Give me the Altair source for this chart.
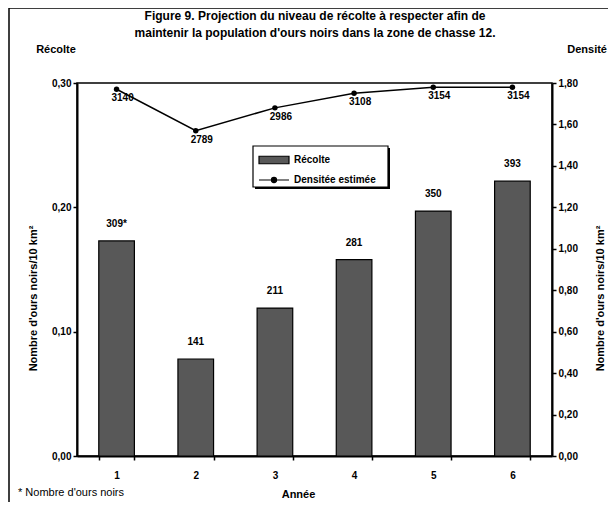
import altair as alt
import pandas as pd

annees = ["1", "2", "3", "4", "5", "6"]
recolte = [0.173, 0.078, 0.119, 0.158, 0.197, 0.221]
recolte_labels = ["309*", "141", "211", "281", "350", "393"]
densite = [1.77, 1.57, 1.68, 1.75, 1.78, 1.78]
densite_labels = ["3140", "2789", "2986", "3108", "3154", "3154"]
series = ["Récolte", "Densitée estimée"]
titre = ["Figure 9. Projection du niveau de récolte à respecter afin de",
         "maintenir la population d'ours noirs dans la zone de chasse 12."]

df = pd.DataFrame({
    "annee": annees,
    "recolte": recolte,
    "rlab": recolte_labels,
    "densite": densite,
    "dlab": densite_labels,
    "s_bar": series[0],
    "s_line": series[1],
})

FONT = "Liberation Sans"
W, H = 475, 373

xenc = alt.X("annee:N", sort=annees,
             scale=alt.Scale(paddingInner=0.55, paddingOuter=0.275),
             axis=alt.Axis(title="Année", labelAngle=0, tickBand="extent",
                           labelFontSize=10, labelFontWeight="bold", labelPadding=10,
                           titleFontSize=11, titleFontWeight="bold",
                           titleX=221, titleY=38, titleBaseline="middle",
                           domainWidth=2, tickSize=4, tickWidth=1.5,
                           labelColor="black", titleColor="black",
                           domainColor="black", tickColor="black"))

leg_common = dict(title=None, orient="none", labelFont=FONT, labelFontSize=10,
                  labelFontWeight="bold", labelColor="black", symbolSize=900,
                  symbolStrokeColor="black", symbolStrokeWidth=1.2)

fill_enc = alt.Fill("s_bar:N", scale=alt.Scale(domain=[series[0]], range=["#585858"]),
                    legend=alt.Legend(legendX=181, legendY=61,
                                      symbolType="M-1,-0.25H1V0.25H-1Z",
                                      symbolOpacity=1, **leg_common))
stroke_enc = alt.Stroke("s_line:N", scale=alt.Scale(domain=[series[1]], range=["black"]),
                        legend=alt.Legend(legendX=181, legendY=81,
                                          symbolType="M-1,0H1M-0.17,0A0.17,0.17,0,1,1,0.17,0A0.17,0.17,0,1,1,-0.17,0Z",
                                          symbolFillColor="black", **leg_common))

yleft = alt.Y("recolte:Q", scale=alt.Scale(domain=[0, 0.3]),
              axis=alt.Axis(title="Nombre d'ours noirs/10 km²", values=[0, 0.1, 0.2, 0.3],
                            labelExpr="replace(format(datum.value, '.2f'), '.', ',')",
                            labelFontSize=10, labelFontWeight="bold", grid=False,
                            titleFontSize=11, titleFontWeight="bold", titleAngle=270,
                            titleX=-44, titleY=215, titleAlign="center", titleBaseline="middle",
                            domainWidth=2, tickSize=4, tickWidth=1.5,
                            labelColor="black", titleColor="black",
                            domainColor="black", tickColor="black"))

bars = alt.Chart(df).mark_bar(stroke="black", strokeWidth=1.2, opacity=1).encode(
    x=xenc, y=yleft, fill=fill_enc
)
bar_text = alt.Chart(df).mark_text(dy=-17, baseline="middle", font=FONT, fontSize=10,
                                   fontWeight="bold", color="black").encode(
    x=alt.X("annee:N", sort=annees), y=alt.Y("recolte:Q"), text="rlab:N"
)
left = alt.layer(bars, bar_text)

yright = alt.Y("densite:Q", scale=alt.Scale(domain=[0, 1.8]),
               axis=alt.Axis(orient="right", title="Nombre d'ours noirs/10 km²",
                             values=[0, 0.2, 0.4, 0.6, 0.8, 1.0, 1.2, 1.4, 1.6, 1.8],
                             labelExpr="replace(format(datum.value, '.2f'), '.', ',')",
                             labelFontSize=10, labelFontWeight="bold", grid=False,
                             titleFontSize=11, titleFontWeight="bold", titleAngle=270,
                             titleX=48, titleY=215, titleAlign="center", titleBaseline="middle",
                             domainWidth=2, tickSize=4, tickWidth=1.5,
                             labelColor="black", titleColor="black",
                             domainColor="black", tickColor="black"))

line = alt.Chart(df).mark_line(strokeWidth=1.5).encode(
    x=alt.X("annee:N", sort=annees), y=yright, stroke=stroke_enc
)
pts = alt.Chart(df).mark_point(filled=True, size=30, color="black", opacity=1).encode(
    x=alt.X("annee:N", sort=annees), y=alt.Y("densite:Q")
)
line_text = alt.Chart(df).mark_text(dx=6, dy=9, baseline="middle", font=FONT, fontSize=10,
                                    fontWeight="bold", color="black").encode(
    x=alt.X("annee:N", sort=annees), y=alt.Y("densite:Q"), text="dlab:N"
)
right = alt.layer(line, pts, line_text)

ann = pd.DataFrame({"t": [0]})
t_titre = alt.Chart(ann).mark_text(text=titre, font=FONT, fontSize=12, fontWeight="bold",
                                   color="black", baseline="top", lineHeight=17).encode(
    x=alt.value(238), y=alt.value(-72))
t_recolte = alt.Chart(ann).mark_text(text="Récolte", font=FONT, fontSize=11, fontWeight="bold",
                                     color="black", baseline="middle").encode(
    x=alt.value(-21), y=alt.value(-33))
t_densite = alt.Chart(ann).mark_text(text="Densité", font=FONT, fontSize=11, fontWeight="bold",
                                     color="black", baseline="middle", align="right").encode(
    x=alt.value(530), y=alt.value(-33))
t_foot = alt.Chart(ann).mark_text(text="* Nombre d'ours noirs", font=FONT, fontSize=11,
                                  color="black", align="left", baseline="middle").encode(
    x=alt.value(-59), y=alt.value(410))
frame = alt.Chart(ann).mark_rect(fill=None, stroke="black", strokeWidth=1.5).encode(
    x=alt.value(-68), x2=alt.value(W + 70), y=alt.value(-75), y2=alt.value(H + 60))
legshadow = alt.Chart(ann).mark_rect(fill="black").encode(
    x=alt.value(178), x2=alt.value(313), y=alt.value(65), y2=alt.value(106))
legbox = alt.Chart(ann).mark_rect(fill="white", stroke="black", strokeWidth=1.2).encode(
    x=alt.value(176), x2=alt.value(311), y=alt.value(63), y2=alt.value(104))

chart = alt.layer(legshadow, legbox, left, right, t_titre, t_recolte, t_densite, t_foot, frame).resolve_scale(
    y="independent"
).properties(
    width=W, height=H,
    autosize=alt.AutoSizeParams(type="none"),
    padding={"left": 69, "top": 75, "right": 56, "bottom": 46},
).configure_view(stroke="black", strokeWidth=1.5).configure_axis(
    labelFont=FONT, titleFont=FONT
)

chart.save("out.html", embed_options={"renderer": "svg", "actions": False})
